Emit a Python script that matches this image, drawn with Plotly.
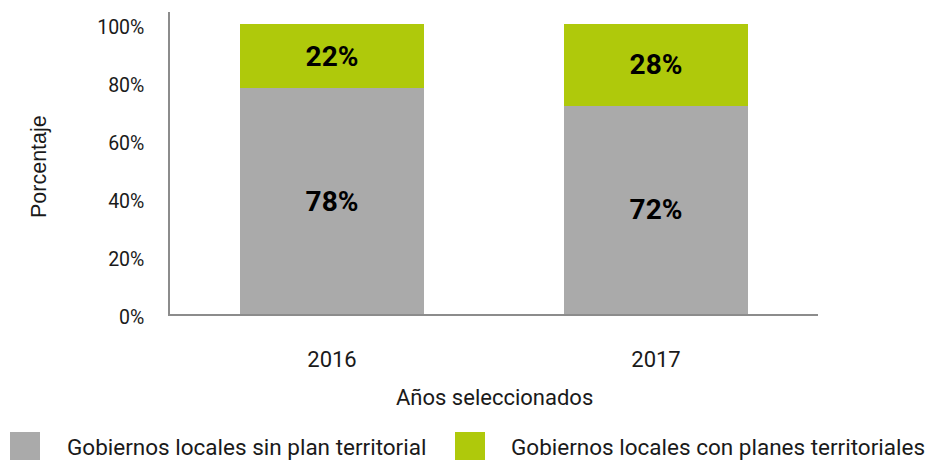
import plotly.graph_objects as go

years = ["2016", "2017"]
sin_plan = [78, 72]
con_planes = [22, 28]
series_names = ["Gobiernos locales sin plan territorial", "Gobiernos locales con planes territoriales"]
y_ticks = [0, 20, 40, 60, 80, 100]
y_tick_labels = ["0%", "20%", "40%", "60%", "80%", "100%"]
x_title = "Años seleccionados"
y_title = "Porcentaje"

GRAY = "#aaaaaa"
GREEN = "#afc90b"
FONT = "Roboto"
TXT = "#1a1a1a"

# plot area in pixels
L, R, T, B = 170, 818, 12, 314
W, H = 929, 460


def px(x):
    return (x - L) / (R - L)


def py(y):
    return (B - y) / (B - T)


fig = go.Figure()
for vals, name, col in [(sin_plan, series_names[0], GRAY), (con_planes, series_names[1], GREEN)]:
    fig.add_trace(go.Bar(
        x=years, y=vals, name=name, marker=dict(color=col, line=dict(width=0)),
        text=[f"{v}%" for v in vals], textposition="inside", insidetextanchor="middle",
        textfont=dict(family=FONT, size=28, color="black", weight="bold"),
        showlegend=False, width=0.565,
    ))

fig.update_layout(
    barmode="stack",
    width=W, height=H,
    margin=dict(l=L, r=W - R, t=T, b=H - B),
    paper_bgcolor="white", plot_bgcolor="white",
    font=dict(family=FONT, size=16, color=TXT),
    showlegend=False,
    uniformtext=dict(minsize=10, mode="show"),
)
fig.update_xaxes(
    showline=True, linecolor="#8c8c8c", linewidth=1.5, showgrid=False,
    ticks="", tickfont=dict(size=22, color=TXT), ticklabelstandoff=25,
)
fig.update_yaxes(
    range=[0, 104.3], showline=True, linecolor="#8c8c8c", linewidth=1.5, showgrid=False,
    zeroline=False, ticks="", tickvals=y_ticks, ticktext=y_tick_labels,
    tickfont=dict(size=19.5, color=TXT), ticklabelstandoff=20, ticklabelshift=3,
)

fig.add_annotation(text=x_title, xref="paper", yref="paper", x=px(494), y=py(397),
                   xanchor="center", yanchor="middle", showarrow=False,
                   font=dict(family=FONT, size=22, color=TXT))
fig.add_annotation(text=y_title, xref="paper", yref="paper", x=px(39), y=py(167),
                   xanchor="center", yanchor="middle", showarrow=False, textangle=-90,
                   font=dict(family="Liberation Sans", size=21.5, color=TXT))

# Legend drawn manually with large swatches
legend_items = [(series_names[0], GRAY, 10, 65), (series_names[1], GREEN, 455, 509)]
for name, col, sx, tx in legend_items:
    fig.add_shape(type="rect", xref="paper", yref="paper",
                  x0=px(sx), x1=px(sx + 30), y0=py(462), y1=py(432),
                  fillcolor=col, line=dict(width=0))
    fig.add_annotation(text=name, xref="paper", yref="paper",
                       x=px(tx), y=py(447),
                       xanchor="left", yanchor="middle", showarrow=False,
                       font=dict(family=FONT, size=22.5, color=TXT))

fig.write_html("out.html", config={"displayModeBar": False},
               post_script="document.body.style.margin='0';document.body.style.overflow='hidden';")
